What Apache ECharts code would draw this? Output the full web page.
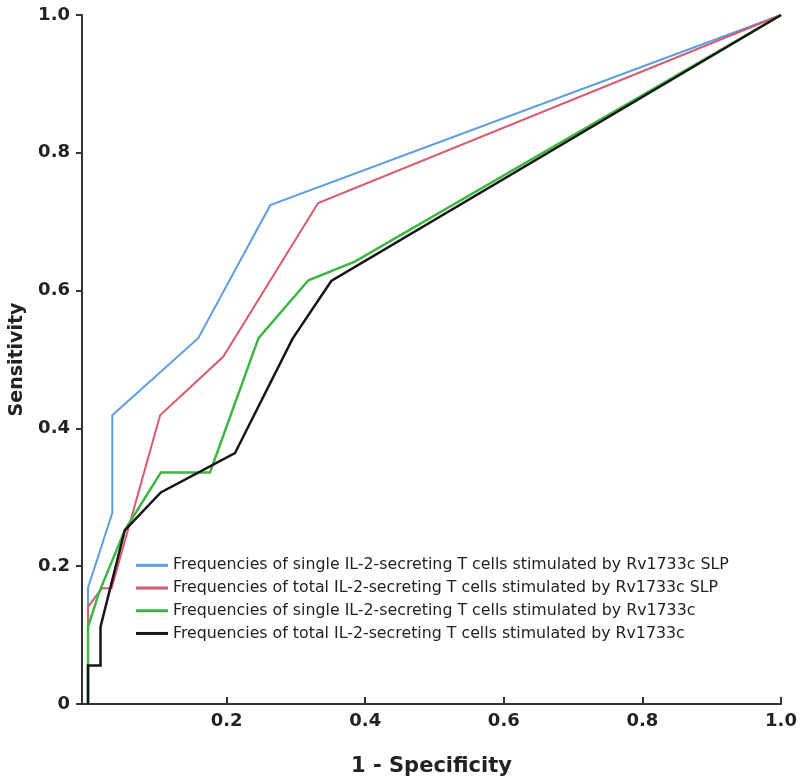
<!DOCTYPE html>
<html>
<head>
<meta charset="utf-8">
<style>
  html, body { margin: 0; padding: 0; background: #ffffff; }
  #chart { width: 800px; height: 782px; }
</style>
<script src="https://cdn.jsdelivr.net/npm/echarts@6/dist/echarts.min.js"></script>
</head>
<body>
<div id="chart"></div>
<script>
// ROC curve points (1 - specificity, sensitivity)
const blueX  = [0, 0, 0.035, 0.035, 0.159, 0.263, 1];
const blueY  = [0, 0.169, 0.277, 0.419, 0.531, 0.724, 1];
const redX   = [0, 0, 0.020, 0.034, 0.104, 0.195, 0.332, 1];
const redY   = [0, 0.141, 0.168, 0.168, 0.419, 0.504, 0.727, 1];
const greenX = [0, 0, 0.016, 0.053, 0.105, 0.176, 0.246, 0.318, 0.385, 1];
const greenY = [0, 0.112, 0.162, 0.252, 0.336, 0.336, 0.531, 0.615, 0.642, 1];
const blackX = [0, 0, 0.018, 0.018, 0.053, 0.105, 0.212, 0.295, 0.351, 1];
const blackY = [0, 0.056, 0.056, 0.112, 0.252, 0.307, 0.364, 0.530, 0.614, 1];

const seriesNames = [
  'Frequencies of single IL-2-secreting T cells stimulated by Rv1733c SLP',
  'Frequencies of total IL-2-secreting T cells stimulated by Rv1733c SLP',
  'Frequencies of single IL-2-secreting T cells stimulated by Rv1733c',
  'Frequencies of total IL-2-secreting T cells stimulated by Rv1733c'
];
const seriesColors = ['#5d9fe2', '#d95a6c', '#3fb643', '#161616'];
const seriesWidths = [2, 2, 2.5, 2.5];

const xTicks = [0.2, 0.4, 0.6, 0.8, 1.0];
const yTicks = [0, 0.2, 0.4, 0.6, 0.8, 1.0];

function zip(xs, ys) { return xs.map((x, i) => [x, ys[i]]); }
const allData = [zip(blueX, blueY), zip(redX, redY), zip(greenX, greenY), zip(blackX, blackY)];

const labelFont = "'DejaVu Sans', sans-serif";
const chart = echarts.init(document.getElementById('chart'), null, { renderer: 'canvas' });

chart.setOption({
  animation: false,
  backgroundColor: '#ffffff',
  grid: { left: 82, right: 19, top: 15, bottom: 78, containLabel: false, outerBoundsMode: 'none' },
  legend: {
    orient: 'vertical',
    left: 136,
    top: 554,
    padding: 0,
    itemWidth: 32,
    itemHeight: 3,
    itemGap: 0,
    icon: 'rect',
    data: seriesNames,
    textStyle: { fontFamily: "'DejaVu Sans', sans-serif", fontSize: 15.8, color: '#222222', lineHeight: 22.7, padding: 0 }
  },
  xAxis: {
    type: 'value',
    min: -0.0087,
    max: 1,
    name: '1 - Specificity',
    nameLocation: 'middle',
    nameGap: 52,
    nameTextStyle: { fontFamily: labelFont, fontWeight: 'bold', fontSize: 21, color: '#222222' },
    axisLine: { show: true, onZero: false, lineStyle: { color: '#333333', width: 2 } },
    axisTick: { show: true, inside: true, length: 7, customValues: xTicks, lineStyle: { color: '#333333', width: 2 } },
    axisLabel: {
      customValues: xTicks,
      margin: 8,
      fontFamily: labelFont, fontWeight: 'bold', fontSize: 18, color: '#222222',
      formatter: v => Number(v).toFixed(1)
    },
    splitLine: { show: false }
  },
  yAxis: {
    type: 'value',
    min: 0,
    max: 1,
    interval: 0.2,
    name: 'Sensitivity',
    nameLocation: 'middle',
    nameGap: 55,
    nameTextStyle: { fontFamily: labelFont, fontWeight: 'bold', fontSize: 19, color: '#222222' },
    axisLine: { show: true, onZero: false, lineStyle: { color: '#333333', width: 2 } },
    axisTick: { show: true, inside: false, length: 6, lineStyle: { color: '#333333', width: 2 } },
    axisLabel: {
      margin: 12,
      fontFamily: labelFont, fontWeight: 'bold', fontSize: 18, color: '#222222',
      formatter: v => (v === 0 ? '0' : Number(v).toFixed(1))
    },
    splitLine: { show: false }
  },
  series: seriesNames.map((name, i) => ({
    name: name,
    type: 'line',
    data: allData[i],
    symbol: 'none',
    showSymbol: false,
    clip: false,
    lineStyle: { color: seriesColors[i], width: seriesWidths[i], join: 'miter' },
    itemStyle: { color: seriesColors[i] },
    emphasis: { disabled: true }
  }))
});
</script>
</body>
</html>
